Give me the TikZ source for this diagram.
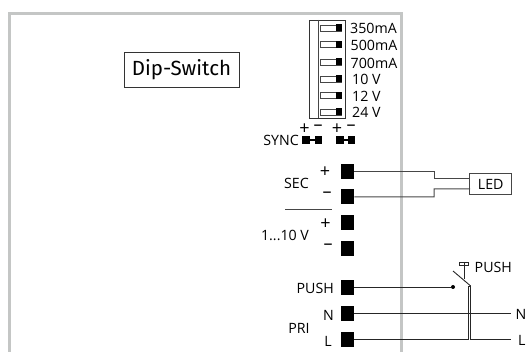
\documentclass[tikz,border=0pt]{standalone}
\usepackage{fontspec}
\setmainfont{Open Sans}
\newfontfamily\titlefont{Fira Sans}
\definecolor{framegrey}{RGB}{196,198,197}
\definecolor{wiregrey}{RGB}{70,70,70}
\tikzset{
  lbl/.style={inner sep=0pt,font=\fontsize{14.2}{15}\selectfont},
  sign/.style={inner sep=0pt,font=\fontsize{18}{18}\selectfont},
  term/.style={draw=none,fill=black,minimum width=13.5pt,minimum height=15pt,inner sep=0pt},
  syncterm/.style={draw=none,fill=black,minimum width=7.5pt,minimum height=7.5pt,inner sep=0pt},
  slide/.style={draw=wiregrey,line width=.9pt,fill=white,minimum width=21pt,minimum height=6pt,inner sep=0pt},
  knob/.style={draw=none,fill=black,minimum width=6pt,minimum height=7pt,inner sep=0pt},
  wire/.style={line width=.9pt,draw=black!85},
  secwire/.style={line width=1pt,draw=wiregrey}
}
\begin{document}
\begin{tikzpicture}[x=1pt,y=-1pt]
  \useasboundingbox (0,0) rectangle (527,352);
  \draw [framegrey,line width=3pt] (9.5,352) -- (9.5,13.5) -- (401.5,13.5) -- (401.5,352);

  \node (dip) [draw=black!80,line width=.9pt,minimum width=115pt,minimum height=35pt,inner sep=0pt,font=\titlefont\fontsize{20.5}{22}\selectfont] at (181.5,69.5) {Dip-Switch};

  \draw [black!80,line width=.9pt] (309.5,20) rectangle (345.7,118.5);
  \draw [wiregrey,line width=1pt] (318,20) -- (318,118.5);
  \node (s1) [slide] at (331.2,28) {};
  \node (s2) [slide] at (331.2,44.7) {};
  \node (s3) [slide] at (331.2,62) {};
  \node (s4) [slide] at (331.2,79) {};
  \node (s5) [slide] at (331.2,95.7) {};
  \node (s6) [slide] at (331.2,112) {};
  \node (k1) [knob] at (339,28) {};
  \node (k2) [knob] at (339,44.7) {};
  \node (k3) [knob] at (339,62) {};
  \node (k4) [knob] at (339,79) {};
  \node (k5) [knob] at (339,95.7) {};
  \node (k6) [knob] at (339,112) {};
  \node (l1) [lbl,anchor=west] at (350,28) {350mA};
  \node (l2) [lbl,anchor=west] at (350.5,45) {500mA};
  \node (l3) [lbl,anchor=west] at (350.5,63) {700mA};
  \node (l4) [lbl,anchor=west] at (352,79) {10 V};
  \node (l5) [lbl,anchor=west] at (352,96) {12 V};
  \node (l6) [lbl,anchor=west] at (352,112) {24 V};

  \node (sync) [lbl,anchor=east] at (299,140) {SYNC};
  \node (y1) [syncterm] at (306,140) {};
  \node (y2) [syncterm] at (318.5,140) {};
  \node (y3) [syncterm] at (340,140) {};
  \node (y4) [syncterm] at (351.5,140) {};
  \draw [black,line width=1.2pt] (y1) -- (y2);
  \draw [black,line width=1.2pt] (y3) -- (y4);
  \node (yp1) [sign] at (304.5,129) {+};
  \node (ym1) [sign] at (318,128) {--};
  \node (yp2) [sign] at (337,129) {+};
  \node (ym2) [sign] at (351,128) {--};

  \node (sec1) [term] at (347.3,171.5) {};
  \node (sec2) [term] at (347.3,196.8) {};
  \node (dim1) [term] at (347.3,222.5) {};
  \node (dim2) [term] at (347.3,248.5) {};
  \node (push) [term] at (347.3,288) {};
  \node (pn) [term] at (347.3,314) {};
  \node (pl) [term] at (347.3,339.5) {};

  \node (seclbl) [lbl] at (296.5,183) {SEC};
  \node (secp) [sign] at (325,172) {+};
  \node (secm) [sign] at (327,195) {--};
  \coordinate (sepa) at (285,209.5);
  \coordinate (sepb) at (332,209.5);
  \draw [wiregrey,line width=1.1pt] (sepa) -- (sepb);
  \node (dimlbl) [lbl] at (285,235) {1...10 V};
  \node (dimp) [sign] at (325.5,224) {+};
  \node (dimm) [sign] at (328,247) {--};
  \node (pushlbl) [lbl,anchor=east] at (334,288) {PUSH};
  \node (nlbl) [lbl,anchor=east] at (334,315) {N};
  \node (pri) [lbl] at (299,328) {PRI};
  \node (llbl) [lbl,anchor=east] at (332,341) {L};

  \node (led) [draw=wiregrey,line width=1pt,minimum width=41.5pt,minimum height=20.5pt,inner sep=0pt,lbl] at (490.7,184) {LED};
  \coordinate (a1) at (434,171.5);
  \coordinate (a2) at (434,179);
  \coordinate (a3) at (470,179);
  \coordinate (b1) at (434,197);
  \coordinate (b2) at (434,189);
  \coordinate (b3) at (470,189);
  \draw [secwire] (sec1.east) -- (a1) -- (a2) -- (a3);
  \draw [secwire] (sec2.east) -- (b1) -- (b2) -- (b3);

  \node (dot) [circle,fill=black,inner sep=0pt,minimum size=4pt] at (453,287) {};
  \draw [wire] (push.east |- dot) -- (dot);
  \coordinate (nend) at (511,313.5);
  \node (nout) [lbl,anchor=east] at (526.5,314) {N};
  \draw [wire] (pn.east |- nend) -- (nend);
  \coordinate (lup) at (468,339);
  \coordinate (ltop) at (468,286);
  \coordinate (rtop) at (470.7,286);
  \coordinate (rdown) at (470.7,339);
  \coordinate (lend) at (511,339);
  \node (lout) [lbl,anchor=west] at (518,340) {L};
  \draw [wire] (pl.east |- lup) -- (lup) -- (ltop) -- (rtop) -- (rdown) -- (lend);

  \coordinate (sw1) at (453,271);
  \coordinate (sw2) at (470.7,286);
  \coordinate (st1) at (464,263);
  \coordinate (st2) at (464,279);
  \coordinate (cap1) at (459.5,262);
  \coordinate (cap2) at (468.5,265);
  \draw [wire] (sw1) -- (sw2);
  \draw [wire] (st1) -- (st2);
  \draw [wire] (cap1) rectangle (cap2);
  \node (pushout) [lbl,anchor=west] at (474.5,267) {PUSH};
\end{tikzpicture}
\end{document}
